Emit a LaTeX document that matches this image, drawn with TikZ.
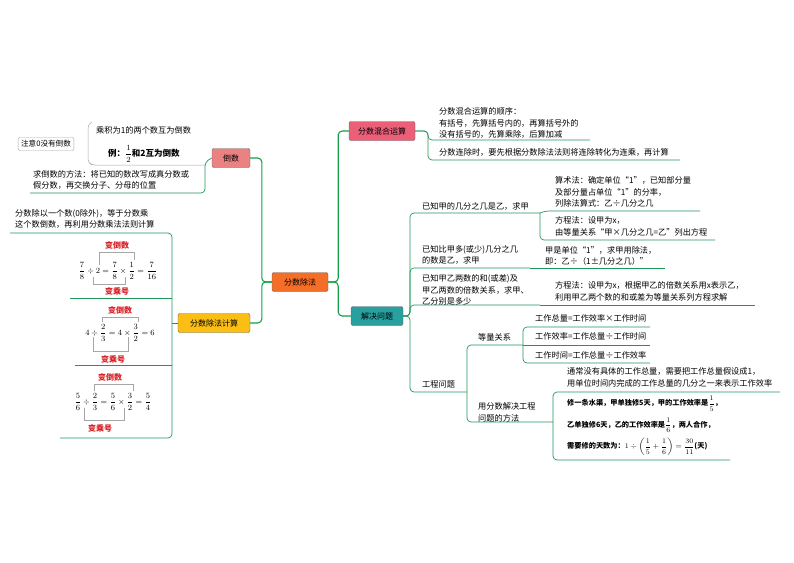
\documentclass[tikz,border=0pt]{standalone}
\usepackage{fontspec}
\setmainfont{Noto Sans CJK SC}
\usepackage{amsmath}
\definecolor{lg}{RGB}{30,150,90}
\definecolor{mg}{RGB}{20,160,70}
\definecolor{redt}{RGB}{215,30,35}
\definecolor{cor}{RGB}{245,110,40}
\definecolor{cpk}{RGB}{235,95,120}
\definecolor{ctl}{RGB}{40,160,160}
\definecolor{csm}{RGB}{235,130,130}
\definecolor{cyl}{RGB}{250,190,20}
\begin{document}
\begin{tikzpicture}[x=1pt,y=-1pt,
 tx/.style={anchor=west,font=\fontsize{8.2}{11.8}\selectfont,inner sep=0,align=left},
 bx/.style={draw=gray!80!black,fill=#1,rounded corners=2pt,minimum height=19pt,inner xsep=4pt,font=\fontsize{8}{9}\selectfont},
 mainln/.style={draw=mg,line width=1.1pt,rounded corners=4pt},
 ln/.style={draw=lg,line width=0.7pt,rounded corners=4pt},
 br/.style={draw=gray!70,line width=0.5pt},
 rd/.style={font=\fontsize{8}{9}\selectfont\bfseries,text=redt,inner sep=0},
 eq/.style={font=\fontsize{7.6}{9}\selectfont,inner sep=0}]
\useasboundingbox (0,0) rectangle (794,562);
% main boxes
\node[bx=cor, minimum width=56pt] (C) at (300,282) {分数除法};
\node[bx=cpk, minimum width=66pt] (H) at (382,131) {分数混合运算};
\node[bx=ctl, minimum width=52pt] (J) at (377,316) {解决问题};
\node[bx=csm, minimum width=38pt] (D) at (231,158) {倒数};
\node[bx=cyl, minimum width=72pt] (F) at (214,323) {分数除法计算};
\draw[mainln] (C.east) -- ++(10pt,0) |- (H.west);
\draw[mainln] (C.east) -- ++(10pt,0) |- (J.west);
\draw[mainln] (C.west) -- ++(-10pt,0) |- (D.east);
\draw[mainln] (C.west) -- ++(-10pt,0) |- (F.east);
% 倒数
\node[tx] (d1) at (96,130) {乘积为1的两个数互为倒数};
\node[tx,font=\fontsize{8.5}{10}\selectfont\bfseries] (d2) at (108,154) {例：$\dfrac12$和2互为倒数};
\node[draw=gray!70,rounded corners=2pt,font=\fontsize{7.6}{8}\selectfont,inner sep=3pt] (d0) at (46,144) {注意0没有倒数};
\draw[br,rounded corners=3pt] (92,122) -- (88,125) -- (88,162) -- (92,165) -- (205,165);
\node[tx] (d3) at (33,180) {求倒数的方法：将已知的数改写成真分数或\\假分数，再交换分子、分母的位置};
\draw[ln] (30,193) -- (205,193) -- (205,162) -- (D.west);
% 分数除法计算
\node[tx] (f1) at (15,219) {分数除以一个数(0除外)，等于分数乘\\这个数倒数，再利用分数乘法法则计算};
\draw[ln] (10,233) -- (172,233) -- (172,438) -- (60,438);
\draw[ln] (172,323) -- (F.west);
\draw[lg,line width=0.6pt] (70,298) -- (172,298) (75,365) -- (172,365);
% eq1
\node[eq] (e1) at (118,271) {$\dfrac78\div2=\dfrac78\times\dfrac12=\dfrac7{16}$};
\node[rd] (r1) at (117,245) {变倒数};
\node[rd] (s1) at (117,291) {变乘号};
\draw[br] (99,265) -- (99,252) -- (134,252) -- (134,260);
\draw[br] (93,277) -- (93,284) -- (125,284) -- (125,277);
% eq2
\node[eq] (e2) at (120,333) {$4\div\dfrac23=4\times\dfrac32=6$};
\node[rd] (r2) at (120,310) {变倒数};
\node[rd] (s2) at (113,359) {变乘号};
\draw[br] (102,322) -- (102,317) -- (138,317) -- (138,322);
\draw[br] (93,337) -- (93,351) -- (128,351) -- (128,337);
% eq3
\node[eq] (e3) at (113,402) {$\dfrac56\div\dfrac23=\dfrac56\times\dfrac32=\dfrac54$};
\node[rd] (r3) at (110,377) {变倒数};
\node[rd] (s3) at (100,428) {变乘号};
\draw[br] (94,391) -- (94,384) -- (133,384) -- (133,391);
\draw[br] (84,408) -- (84,420) -- (124,420) -- (124,408);
% 分数混合运算
\node[tx] (h1) at (439,123) {分数混合运算的顺序：\\有括号，先算括号内的，再算括号外的\\没有括号的，先算乘除，后算加减};
\node[tx] (h2) at (439,152) {分数连除时，要先根据分数除法法则将连除转化为连乘，再计算};
\draw[ln] (H.east) -- (428,131) |- (590,140);
\draw[ln] (H.east) -- (428,131) |- (680,160);
% 解决问题
\draw[ln] (J.east) -- (410,316) |- (540,213);
\draw[ln] (J.east) -- (410,316) |- (530,268);
\draw[ln] (J.east) -- (410,316) |- (540,305);
\draw[ln] (J.east) -- (410,316) |- (467,392);
\node[tx] (a1) at (422,206) {已知甲的几分之几是乙，求甲};
\node[tx] (a2) at (555,192) {算术法：确定单位“1”，已知部分量\\及部分量占单位“1”的分率，\\列除法算式：乙÷几分之几};
\node[tx] (a3) at (555,226) {方程法：设甲为x，\\由等量关系“甲×几分之几=乙”列出方程};
\draw[ln] (540,213) -- (545,211) -- (700,211);
\draw[ln] (540,213) |- (715,240);
\node[tx] (b1) at (422,255) {已知比甲多(或少)几分之几\\的数是乙，求甲};
\node[tx] (b2) at (545,256) {甲是单位“1”，求甲用除法，\\即：乙÷（1±几分之几）”};
\draw[ln] (530,268) -- (665,268);
\node[tx] (c1) at (422,290) {已知甲乙两数的和(或差)及\\甲乙两数的倍数关系，求甲、\\乙分别是多少};
\node[tx] (c2) at (555,291) {方程法：设甲为x，根据甲乙的倍数关系用x表示乙，\\利用甲乙两个数的和或差为等量关系列方程求解};
\draw[ln] (540,305) -- (755,305);
% 工程问题
\node[tx] (g0) at (422,384) {工程问题};
\draw[ln] (467,392) |- (523,345);
\draw[ln] (467,392) |- (553,422);
\node[tx] (g1) at (478,337) {等量关系};
\node[tx] (g11) at (535,318) {工作总量=工作效率×工作时间};
\node[tx] (g12) at (535,336) {工作效率=工作总量÷工作时间};
\node[tx] (g13) at (535,355) {工作时间=工作总量÷工作效率};
\draw[ln] (523,345) |- (650,327);
\draw[ln] (523,345) -- (650,345);
\draw[ln] (523,345) |- (650,363);
\node[tx] (g2) at (478,412) {用分数解决工程\\问题的方法};
\node[tx] (g21) at (567,377) {通常没有具体的工作总量，需要把工作总量假设成1，\\用单位时间内完成的工作总量的几分之一来表示工作效率};
\node[tx,font=\fontsize{7.2}{21.5}\selectfont\bfseries] (g22) at (567,426) {修一条水渠，甲单独修5天，甲的工作效率是$\dfrac15$，\\乙单独修6天，乙的工作效率是$\dfrac16$，两人合作，\\需要修的天数为：$1\div\left(\dfrac15+\dfrac16\right)=\dfrac{30}{11}$(天)};
\draw[ln] (553,422) |- (780,392);
\draw[ln] (553,422) |- (730,460);
\end{tikzpicture}
\end{document}
